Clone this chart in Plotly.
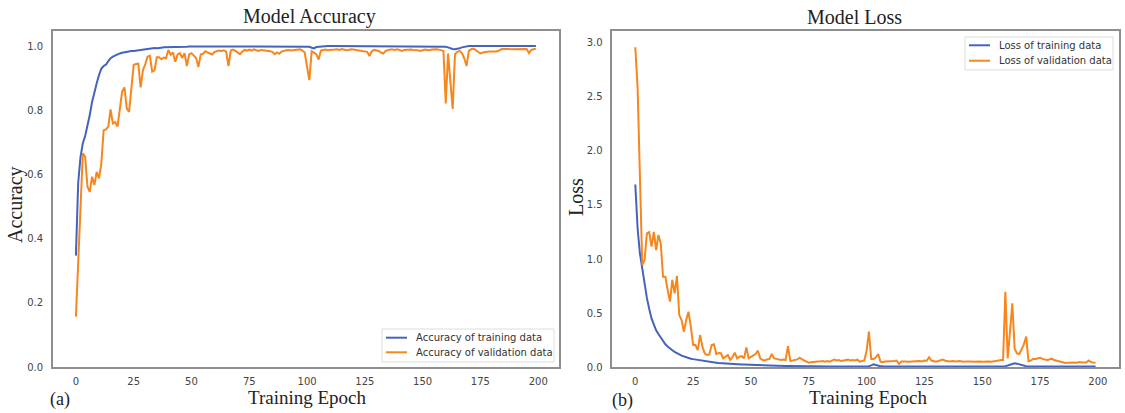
import plotly.graph_objects as go

W, H = 1125, 413

epochs = list(range(200))

train_acc = [
    0.347, 0.575, 0.655, 0.697, 0.720, 0.750, 0.785, 0.826, 0.858, 0.884,
    0.910, 0.930, 0.938, 0.942, 0.953, 0.962, 0.967, 0.971, 0.975, 0.977,
    0.979, 0.981, 0.982, 0.983, 0.985, 0.985, 0.986, 0.988, 0.989, 0.989,
    0.991, 0.992, 0.992, 0.993, 0.994, 0.993, 0.995, 0.995, 0.996, 0.996,
    0.997, 0.997, 0.996, 0.997, 0.998, 0.998, 0.997, 0.998, 0.998, 0.999,
    0.999, 0.998, 0.999, 0.999, 0.999, 0.998, 0.999, 0.999, 1.000, 0.999,
    0.999, 1.000, 0.999, 0.999, 1.000, 0.999, 0.999, 1.000, 1.000, 0.999,
    1.000, 0.999, 1.000, 1.000, 0.999, 1.000, 1.000, 1.000, 0.999, 1.000,
    1.000, 1.000, 0.999, 1.000, 1.000, 1.000, 1.000, 0.999, 1.000, 1.000,
    1.000, 1.000, 1.000, 0.999, 1.000, 1.000, 1.000, 1.000, 1.000, 1.000,
    0.999, 0.998, 0.995, 0.993, 0.997, 0.998, 0.999, 0.999, 0.999, 1.000,
    1.000, 1.000, 1.000, 1.000, 0.999, 1.000, 1.000, 1.000, 1.000, 1.000,
    1.000, 1.000, 1.000, 1.000, 1.000, 1.000, 1.000, 0.999, 1.000, 1.000,
    1.000, 1.000, 1.000, 1.000, 1.000, 1.000, 1.000, 1.000, 1.000, 1.000,
    1.000, 1.000, 1.000, 1.000, 1.000, 1.000, 1.000, 1.000, 1.000, 1.000,
    1.000, 1.000, 1.000, 1.000, 1.000, 1.000, 1.000, 1.000, 1.000, 0.999,
    0.998, 0.996, 0.993, 0.991, 0.990, 0.991, 0.993, 0.996, 0.998, 0.999,
    1.000, 1.000, 1.000, 1.000, 1.000, 1.000, 1.000, 1.000, 1.000, 1.000,
    1.000, 1.000, 1.000, 1.000, 1.000, 1.000, 1.000, 1.000, 1.000, 1.000,
    1.000, 1.000, 1.000, 1.000, 1.000, 1.000, 1.000, 1.000, 1.000, 1.000,
]

val_acc = [
    0.157, 0.330, 0.500, 0.666, 0.655, 0.562, 0.546, 0.593, 0.567, 0.608,
    0.588, 0.634, 0.738, 0.740, 0.749, 0.803, 0.759, 0.763, 0.749, 0.811,
    0.858, 0.871, 0.806, 0.795, 0.873, 0.941, 0.944, 0.945, 0.871, 0.925,
    0.944, 0.967, 0.970, 0.920, 0.924, 0.965, 0.965, 0.959, 0.964, 0.962,
    0.988, 0.973, 0.980, 0.951, 0.974, 0.978, 0.963, 0.978, 0.938, 0.974,
    0.978, 0.972, 0.963, 0.935, 0.974, 0.976, 0.984, 0.980, 0.976, 0.974,
    0.982, 0.984, 0.986, 0.985, 0.987, 0.983, 0.938, 0.986, 0.989, 0.985,
    0.980, 0.975, 0.983, 0.988, 0.986, 0.989, 0.986, 0.990, 0.987, 0.985,
    0.988, 0.987, 0.986, 0.987, 0.984, 0.982, 0.975, 0.980, 0.976, 0.983,
    0.986, 0.987, 0.988, 0.986, 0.987, 0.988, 0.987, 0.990, 0.986, 0.980,
    0.935, 0.894, 0.984, 0.978, 0.975, 0.958, 0.986, 0.988, 0.989, 0.987,
    0.987, 0.988, 0.989, 0.990, 0.988, 0.991, 0.989, 0.987, 0.988, 0.990,
    0.989, 0.988, 0.987, 0.986, 0.985, 0.983, 0.982, 0.969, 0.984, 0.988,
    0.987, 0.985, 0.980, 0.977, 0.985, 0.988, 0.989, 0.989, 0.988, 0.990,
    0.987, 0.985, 0.988, 0.989, 0.990, 0.989, 0.988, 0.988, 0.987, 0.985,
    0.988, 0.989, 0.988, 0.987, 0.989, 0.990, 0.990, 0.989, 0.986, 0.985,
    0.821, 0.977, 0.890, 0.804, 0.975, 0.982, 0.985, 0.978, 0.962, 0.938,
    0.985, 0.990, 0.992, 0.987, 0.982, 0.977, 0.980, 0.982, 0.982, 0.983,
    0.983, 0.984, 0.983, 0.986, 0.990, 0.991, 0.992, 0.991, 0.990, 0.990,
    0.991, 0.992, 0.992, 0.991, 0.992, 0.991, 0.978, 0.988, 0.990, 0.992,
]

train_loss = [
    1.690, 1.280, 1.050, 0.920, 0.750, 0.640, 0.540, 0.450, 0.395, 0.340,
    0.305, 0.270, 0.235, 0.210, 0.190, 0.170, 0.155, 0.140, 0.125, 0.117,
    0.105, 0.097, 0.088, 0.080, 0.077, 0.073, 0.069, 0.065, 0.062, 0.058,
    0.053, 0.050, 0.047, 0.045, 0.042, 0.040, 0.037, 0.035, 0.033, 0.031,
    0.030, 0.029, 0.027, 0.026, 0.025, 0.024, 0.023, 0.022, 0.021, 0.020,
    0.020, 0.019, 0.018, 0.017, 0.016, 0.016, 0.015, 0.014, 0.014, 0.013,
    0.012, 0.012, 0.011, 0.011, 0.010, 0.010, 0.010, 0.009, 0.009, 0.009,
    0.008, 0.008, 0.008, 0.007, 0.007, 0.007, 0.007, 0.006, 0.006, 0.006,
    0.006, 0.006, 0.006, 0.006, 0.005, 0.005, 0.006, 0.005, 0.005, 0.005,
    0.005, 0.005, 0.005, 0.005, 0.005, 0.005, 0.005, 0.005, 0.005, 0.005,
    0.005, 0.007, 0.015, 0.024, 0.018, 0.010, 0.007, 0.006, 0.005, 0.005,
    0.005, 0.005, 0.005, 0.005, 0.005, 0.005, 0.004, 0.005, 0.004, 0.004,
    0.004, 0.004, 0.004, 0.004, 0.004, 0.004, 0.004, 0.004, 0.004, 0.004,
    0.004, 0.004, 0.004, 0.004, 0.004, 0.004, 0.004, 0.004, 0.004, 0.004,
    0.004, 0.004, 0.004, 0.004, 0.004, 0.004, 0.004, 0.004, 0.004, 0.004,
    0.004, 0.004, 0.004, 0.004, 0.004, 0.004, 0.004, 0.004, 0.004, 0.005,
    0.008, 0.014, 0.022, 0.030, 0.034, 0.031, 0.024, 0.016, 0.010, 0.007,
    0.005, 0.005, 0.004, 0.004, 0.004, 0.004, 0.004, 0.004, 0.004, 0.004,
    0.004, 0.004, 0.004, 0.004, 0.004, 0.004, 0.004, 0.004, 0.004, 0.004,
    0.004, 0.004, 0.004, 0.004, 0.004, 0.004, 0.004, 0.004, 0.004, 0.004,
]

val_loss = [
    2.960, 2.580, 1.760, 0.944, 0.990, 1.238, 1.250, 1.114, 1.250, 1.083,
    1.222, 1.145, 0.836, 0.836, 0.713, 0.605, 0.806, 0.682, 0.843, 0.481,
    0.435, 0.327, 0.435, 0.512, 0.373, 0.204, 0.204, 0.157, 0.296, 0.188,
    0.127, 0.111, 0.115, 0.204, 0.210, 0.120, 0.130, 0.127, 0.080, 0.100,
    0.111, 0.065, 0.090, 0.133, 0.080, 0.096, 0.100, 0.080, 0.182, 0.080,
    0.095, 0.111, 0.120, 0.151, 0.080, 0.065, 0.060, 0.070, 0.075, 0.120,
    0.080, 0.075, 0.070, 0.065, 0.070, 0.065, 0.194, 0.056, 0.060, 0.065,
    0.070, 0.086, 0.070, 0.060, 0.050, 0.040, 0.045, 0.045, 0.046, 0.050,
    0.052, 0.055, 0.050, 0.055, 0.050, 0.060, 0.068, 0.060, 0.065, 0.055,
    0.060, 0.062, 0.068, 0.060, 0.065, 0.060, 0.068, 0.050, 0.055, 0.060,
    0.150, 0.327, 0.074, 0.074, 0.090, 0.120, 0.050, 0.045, 0.050, 0.050,
    0.050, 0.052, 0.055, 0.060, 0.028, 0.050, 0.052, 0.050, 0.048, 0.050,
    0.050, 0.052, 0.050, 0.055, 0.052, 0.060, 0.058, 0.090, 0.060, 0.055,
    0.050, 0.055, 0.065, 0.068, 0.058, 0.052, 0.050, 0.055, 0.050, 0.052,
    0.055, 0.050, 0.048, 0.050, 0.052, 0.050, 0.048, 0.050, 0.052, 0.050,
    0.048, 0.050, 0.052, 0.050, 0.048, 0.050, 0.052, 0.060, 0.065, 0.065,
    0.697, 0.080, 0.330, 0.590, 0.170, 0.125, 0.120, 0.160, 0.210, 0.281,
    0.053, 0.060, 0.074, 0.075, 0.080, 0.086, 0.075, 0.070, 0.065, 0.070,
    0.077, 0.065, 0.060, 0.050, 0.045, 0.040, 0.037, 0.040, 0.042, 0.040,
    0.042, 0.040, 0.045, 0.042, 0.040, 0.042, 0.060, 0.045, 0.042, 0.040,
]

x_ticks = [0, 25, 50, 75, 100, 125, 150, 175, 200]
acc_ticks = [0.0, 0.2, 0.4, 0.6, 0.8, 1.0]
loss_ticks = [0.0, 0.5, 1.0, 1.5, 2.0, 2.5, 3.0]

acc_names = ["Accuracy of training data", "Accuracy of validation data"]
loss_names = ["Loss of training data", "Loss of validation data"]

BLUE = "#4364be"
ORANGE = "#f7861c"
FRAME = "#8e8e8e"
TICKC = "#444444"
SANS = "DejaVu Sans"
SERIF = "Liberation Serif"


def px(x):
    return x / W


def py(y):
    return (H - y) / H


fig = go.Figure()
fig.add_trace(go.Scatter(x=epochs, y=train_acc, mode="lines", name=acc_names[0],
                         line=dict(color=BLUE, width=2), xaxis="x", yaxis="y"))
fig.add_trace(go.Scatter(x=epochs, y=val_acc, mode="lines", name=acc_names[1],
                         line=dict(color=ORANGE, width=2), xaxis="x", yaxis="y"))
fig.add_trace(go.Scatter(x=epochs, y=train_loss, mode="lines", name=loss_names[0],
                         line=dict(color=BLUE, width=2), xaxis="x2", yaxis="y2"))
fig.add_trace(go.Scatter(x=epochs, y=val_loss, mode="lines", name=loss_names[1],
                         line=dict(color=ORANGE, width=2), xaxis="x2", yaxis="y2"))

ydom = [py(367), py(31)]
common_x = dict(range=[-9.95, 208.95], tickvals=x_ticks, showgrid=False, zeroline=False,
                showline=True, mirror=True, linecolor=FRAME, linewidth=1.5, ticks="",
                tickfont=dict(family=SANS, size=10, color=TICKC), ticklabelstandoff=4,
                automargin=False)
common_y = dict(showgrid=False, zeroline=False, showline=True, mirror=True, linecolor=FRAME,
                linewidth=1.5, ticks="", tickfont=dict(family=SANS, size=10, color=TICKC),
                ticklabelstandoff=6, tickformat=".1f", domain=ydom, automargin=False)

fig.update_layout(
    width=W, height=H, margin=dict(l=0, r=0, t=0, b=0, autoexpand=False),
    paper_bgcolor="white", plot_bgcolor="white", showlegend=False,
    xaxis=dict(common_x, domain=[px(52.9), px(558.9)], anchor="y"),
    yaxis=dict(common_y, range=[0, 1.047], tickvals=acc_ticks, anchor="x"),
    xaxis2=dict(common_x, domain=[px(612.3), px(1118.6)], anchor="y2"),
    yaxis2=dict(common_y, range=[0, 3.111], tickvals=loss_ticks, anchor="x2"),
)


def draw_legend(box, names, colors, rows):
    x0, y0, x1, y1 = box
    fig.add_shape(type="rect", xref="paper", yref="paper", x0=px(x0), x1=px(x1),
                  y0=py(y1), y1=py(y0), line=dict(color="#dddddd", width=1),
                  fillcolor="white", layer="above")
    for name, color, ry in zip(names, colors, rows):
        fig.add_shape(type="line", xref="paper", yref="paper", x0=px(x0 + 4), x1=px(x0 + 25),
                      y0=py(ry), y1=py(ry), line=dict(color=color, width=2), layer="above")
        fig.add_annotation(text=name, x=px(x0 + 32), y=py(ry), xref="paper", yref="paper",
                           showarrow=False, xanchor="left", yanchor="middle",
                           font=dict(family=SANS, size=10, color="#333333"))


draw_legend((382, 329, 554, 362), acc_names, [BLUE, ORANGE], [337.7, 352.3])
draw_legend((965, 37, 1113, 70), loss_names, [BLUE, ORANGE], [45.3, 60.7])

ann = [
    dict(text="Model Accuracy", x=px(309), y=py(17), size=20),
    dict(text="Model Loss", x=px(854), y=py(17), size=20),
    dict(text="Training Epoch", x=px(307), y=py(397), size=19),
    dict(text="Training Epoch", x=px(868), y=py(397), size=19),
    dict(text="(a)", x=px(60), y=py(399), size=18),
    dict(text="(b)", x=px(622), y=py(400), size=18),
]
for a in ann:
    fig.add_annotation(text=a["text"], x=a["x"], y=a["y"], xref="paper", yref="paper",
                       showarrow=False, xanchor="center", yanchor="middle",
                       font=dict(family=SERIF, size=a["size"], color="#222222"))

fig.add_annotation(text="Accuracy", x=px(16), y=py(205), xref="paper", yref="paper",
                   showarrow=False, textangle=-90, xanchor="center", yanchor="middle",
                   font=dict(family=SERIF, size=20, color="#222222"))
fig.add_annotation(text="Loss", x=px(576), y=py(197), xref="paper", yref="paper",
                   showarrow=False, textangle=-90, xanchor="center", yanchor="middle",
                   font=dict(family=SERIF, size=20, color="#222222"))

fig.write_html("out.html")
